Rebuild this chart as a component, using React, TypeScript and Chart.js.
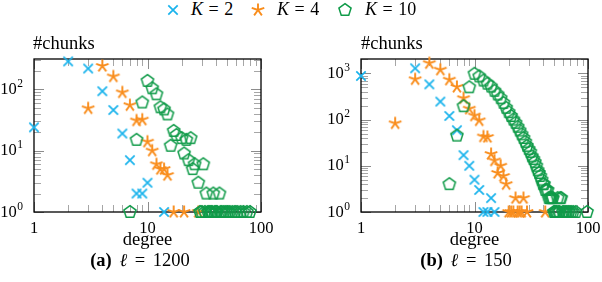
import React, { useEffect, useRef } from "react";
import { Chart, registerables } from "chart.js";
Chart.register(...registerables);

// ---------- tick labels ----------
const xTickValues = [1, 10, 100];
const xTickLabels = ["1", "10", "100"];
const yTickValuesA = [1, 10, 100];
const yTickExpA = ["0", "1", "2"];
const yTickValuesB = [1, 10, 100, 1000];
const yTickExpB = ["0", "1", "2", "3"];

// ---------- series labels ----------
const seriesNames = ["K = 2", "K = 4", "K = 10"];

// ---------- (a) l = 1200 ----------
const degA_K2 = [1, 2, 3, 4, 5, 6, 7, 8, 9, 10, 14];
const cntA_K2 = [24, 285, 218, 93, 46, 19, 7, 2, 2, 3, 1];

const degA_K4 = [3, 4, 5, 6, 7, 8, 9, 10, 11, 12, 13, 14, 15, 17, 21, 28];
const cntA_K4 = [49, 240, 162, 89, 55, 31, 32, 14, 10, 6, 5, 5, 4, 1, 1, 1];

const degA_K10 = [7, 8, 9, 10, 11, 12, 13, 14, 15, 16, 17, 18, 20, 21, 22, 23, 24, 25, 26, 28, 29, 30, 31, 32, 33, 34, 35, 36, 37, 38, 39, 40, 41, 43, 44, 45, 47, 49, 51, 53, 56, 59, 62, 66, 70, 75, 80];
const cntA_K10 = [1, 15, 61, 137, 104, 83, 51, 47, 39, 12, 21, 18, 16, 9, 15, 7, 16, 5, 6, 3, 1, 1, 6, 1, 2, 1, 1, 1, 1, 2, 1, 1, 1, 2, 1, 1, 1, 1, 1, 1, 1, 1, 1, 1, 1, 1, 1];

// ---------- (b) l = 150 ----------
const degB_K2 = [1, 3, 4, 5, 6, 7, 8, 9, 10, 11, 12, 13, 14, 15];
const cntB_K2 = [880, 1290, 580, 245, 120, 59, 17, 10, 5, 3, 1, 1, 2, 1];

const degB_K4 = [2, 3, 4, 5, 6, 7, 8, 9, 10, 11, 12, 13, 14, 15, 16, 17, 18, 19, 20, 21, 22, 23, 24, 25, 26, 27, 29, 42];
const cntB_K4 = [83, 745, 1660, 1200, 730, 510, 290, 172, 122, 96, 43, 42, 18, 13, 7, 10, 6, 4, 1, 1, 1, 2, 1, 1, 1, 2, 1, 1];

const degB_K10 = [6, 7, 8, 9, 10, 11, 12, 13, 14, 15, 16, 17, 18, 19, 20, 21, 22, 23, 24, 25, 26, 27, 28, 29, 30, 31, 32, 33, 34, 35, 36, 37, 38, 39, 40, 41, 42, 43, 44, 45, 46, 47, 48, 49, 50, 51, 52, 53, 54, 55, 56, 57, 58, 60, 62, 64, 66, 68, 71, 74, 78, 98];
const cntB_K10 = [4, 45, 195, 500, 980, 860, 700, 600, 520, 420, 350, 290, 230, 180, 145, 120, 100, 85, 70, 58, 48, 40, 33, 27, 23, 20, 16, 14, 12, 10, 8, 7, 6, 5, 4, 4, 3, 3, 3, 2, 2, 2, 2, 2, 1, 1, 1, 1, 2, 1, 1, 2, 2, 1, 1, 1, 1, 1, 1, 1, 1, 1];

// ---------- styles ----------
const COLORS = ["#19B3EC", "#F98D1C", "#109B49"];
const KINDS = ["cross", "star", "pentagon"];
const FONT = '"Liberation Serif", "Times New Roman", serif';

function drawMarker(ctx: CanvasRenderingContext2D, kind: string, cx: number, cy: number, color: string) {
  ctx.save();
  ctx.strokeStyle = color;
  ctx.lineCap = "butt";
  ctx.lineJoin = "miter";
  ctx.beginPath();
  if (kind === "cross") {
    const r = 4.7;
    ctx.lineWidth = 1.7;
    ctx.moveTo(cx - r, cy - r);
    ctx.lineTo(cx + r, cy + r);
    ctx.moveTo(cx - r, cy + r);
    ctx.lineTo(cx + r, cy - r);
  } else if (kind === "star") {
    const r = 6.6;
    ctx.lineWidth = 1.9;
    for (let k = 0; k < 5; k++) {
      const a = -Math.PI / 2 + (k * 2 * Math.PI) / 5;
      ctx.moveTo(cx, cy);
      ctx.lineTo(cx + r * Math.cos(a), cy + r * Math.sin(a));
    }
  } else {
    const r = 6.4;
    ctx.lineWidth = 1.5;
    for (let k = 0; k < 5; k++) {
      const a = -Math.PI / 2 + (k * 2 * Math.PI) / 5;
      const px = cx + r * Math.cos(a);
      const py = cy + r * Math.sin(a);
      if (k === 0) ctx.moveTo(px, py);
      else ctx.lineTo(px, py);
    }
    ctx.closePath();
  }
  ctx.stroke();
  ctx.restore();
}

function makeMarker(kind: string, color: string) {
  const c = document.createElement("canvas");
  c.width = 20;
  c.height = 20;
  const ctx = c.getContext("2d")!;
  drawMarker(ctx, kind, 10, 10, color);
  return c;
}

function minorTicks(majors: number[]) {
  const out: number[] = [];
  majors.forEach((b) => {
    for (let m = 2; m <= 9; m++) out.push(b * m);
  });
  return out;
}

const axisPlugin = {
  id: "pgfAxis",
  beforeDatasetsDraw(chart: any, _args: any, opts: any) {
    const { ctx, chartArea: a } = chart;
    const xs = chart.scales.x;
    const ys = chart.scales.y;
    const majorLen = 10;
    const minorLen = 7;
    ctx.save();
    ctx.lineWidth = 1;
    ctx.strokeStyle = "#a6a6a6";
    const xMaj = xTickValues;
    const xMin = minorTicks([1, 10]);
    const yMaj: number[] = opts.yValues;
    const yMin = minorTicks(yMaj).filter((v) => v <= ys.max);
    const drawX = (v: number, len: number) => {
      const px = Math.round(xs.getPixelForValue(v)) + 0.5;
      ctx.beginPath();
      ctx.moveTo(px, a.bottom);
      ctx.lineTo(px, a.bottom - len);
      ctx.moveTo(px, a.top);
      ctx.lineTo(px, a.top + len);
      ctx.stroke();
    };
    const drawY = (v: number, len: number) => {
      const py = Math.round(ys.getPixelForValue(v)) + 0.5;
      ctx.beginPath();
      ctx.moveTo(a.left, py);
      ctx.lineTo(a.left + len, py);
      ctx.moveTo(a.right, py);
      ctx.lineTo(a.right - len, py);
      ctx.stroke();
    };
    xMin.forEach((v) => drawX(v, minorLen));
    yMin.forEach((v) => drawY(v, minorLen));
    ctx.strokeStyle = "#8c8c8c";
    xMaj.forEach((v) => drawX(v, majorLen));
    yMaj.forEach((v) => drawY(v, majorLen));
    ctx.strokeStyle = "#000";
    ctx.lineWidth = 1.3;
    ctx.strokeRect(a.left, a.top, a.right - a.left, a.bottom - a.top);
    ctx.restore();
  },
  afterDraw(chart: any, _args: any, opts: any) {
    const { ctx, chartArea: a } = chart;
    const xs = chart.scales.x;
    const ys = chart.scales.y;
    ctx.save();
    ctx.fillStyle = "#000";
    ctx.font = `16.5px ${FONT}`;
    ctx.textAlign = "center";
    ctx.textBaseline = "alphabetic";
    xTickValues.forEach((v, i) => {
      ctx.fillText(xTickLabels[i], xs.getPixelForValue(v), a.bottom + 20.5);
    });
    const yVals: number[] = opts.yValues;
    const yExp: string[] = opts.yExp;
    yVals.forEach((v, i) => {
      const py = ys.getPixelForValue(v);
      const right = a.left - 11;
      ctx.font = `11.5px ${FONT}`;
      ctx.textAlign = "right";
      const ew = ctx.measureText(yExp[i]).width;
      ctx.fillText(yExp[i], right, py - 2.5);
      ctx.font = `16.5px ${FONT}`;
      ctx.fillText("10", right - ew - 0.5, py + 4.5);
    });
    ctx.restore();
  },
};

function makeConfig(degs: number[][], cnts: number[][], yMax: number, yValues: number[], yExp: string[], padding: any, markers: HTMLCanvasElement[]) {
  return {
    type: "scatter" as const,
    data: {
      datasets: degs.map((d, i) => ({
        label: seriesNames[i],
        data: d.map((x, j) => ({ x, y: cnts[i][j] })),
        pointStyle: markers[i],
        pointRadius: 7,
        pointHoverRadius: 7,
        clip: false as const,
        order: 3 - i,
        showLine: false,
      })),
    },
    options: {
      responsive: false,
      animation: false as const,
      events: [] as any[],
      layout: { padding },
      plugins: {
        legend: { display: false },
        tooltip: { enabled: false },
        pgfAxis: { yValues, yExp },
      },
      scales: {
        x: { type: "logarithmic" as const, min: 1, max: 100, display: false },
        y: { type: "logarithmic" as const, min: 1, max: yMax, display: false },
      },
    },
    plugins: [axisPlugin],
  };
}

function Txt(props: { x: number; baseline: number; fs: number; children: any; w?: number; align?: string; ws?: number }) {
  const { x, baseline, fs, children, w, align, ws } = props;
  const style: any = {
    position: "absolute",
    top: baseline - 0.8375 * fs,
    fontSize: fs,
    lineHeight: fs + "px",
    whiteSpace: "nowrap",
    fontFamily: FONT,
    color: "#000",
  };
  if (ws) style.wordSpacing = ws + "px";
  if (align === "center" && w) {
    style.left = x - w / 2;
    style.width = w;
    style.textAlign = "center";
  } else {
    style.left = x;
  }
  return <div style={style}>{children}</div>;
}

export default function App() {
  const leftRef = useRef<HTMLCanvasElement>(null);
  const rightRef = useRef<HTMLCanvasElement>(null);
  const leg0 = useRef<HTMLCanvasElement>(null);
  const leg1 = useRef<HTMLCanvasElement>(null);
  const leg2 = useRef<HTMLCanvasElement>(null);

  useEffect(() => {
    document.body.style.margin = "0";
    const markers = KINDS.map((k, i) => makeMarker(k, COLORS[i]));
    const c1 = new Chart(
      leftRef.current!,
      makeConfig([degA_K2, degA_K4, degA_K10], [cntA_K2, cntA_K4, cntA_K10], 312, yTickValuesA, yTickExpA, { left: 34, top: 59, right: 39, bottom: 70 }, markers) as any
    );
    const c2 = new Chart(
      rightRef.current!,
      makeConfig([degB_K2, degB_K4, degB_K10], [cntB_K2, cntB_K4, cntB_K10], 2050, yTickValuesB, yTickExpB, { left: 61, top: 59, right: 14, bottom: 70 }, markers) as any
    );
    [leg0, leg1, leg2].forEach((r, i) => {
      const cv = r.current!;
      const ctx = cv.getContext("2d")!;
      ctx.clearRect(0, 0, 20, 20);
      drawMarker(ctx, KINDS[i], 10, 10, COLORS[i]);
    });
    return () => {
      c1.destroy();
      c2.destroy();
    };
  }, []);

  const legX = [173, 258, 345];
  const legTextX = [191, 277, 365];
  const legRefs = [leg0, leg1, leg2];
  const legNums = ["2", "4", "10"];

  return (
    <div style={{ position: "relative", width: 602, height: 282, overflow: "hidden", background: "#fff" }}>
      {legX.map((x, i) => (
        <canvas key={"m" + i} ref={legRefs[i]} width={20} height={20} style={{ position: "absolute", left: x - 10, top: 0 }} />
      ))}
      {legTextX.map((x, i) => (
        <Txt key={"t" + i} x={x} baseline={15.5} fs={18} ws={1}>
          <i>K</i>&nbsp;=&nbsp;{legNums[i]}
        </Txt>
      ))}
      <canvas ref={leftRef} width={300} height={282} style={{ position: "absolute", left: 0, top: 0 }} />
      <canvas ref={rightRef} width={302} height={282} style={{ position: "absolute", left: 300, top: 0 }} />
      <Txt x={33} baseline={49.5} fs={18.5}>#chunks</Txt>
      <Txt x={361} baseline={49.5} fs={18.5}>#chunks</Txt>
      <Txt x={147.5} baseline={245} fs={18.5} w={120} align="center">degree</Txt>
      <Txt x={474.5} baseline={245} fs={18.5} w={120} align="center">degree</Txt>
      <Txt x={140} baseline={266} fs={18.5} w={220} align="center" ws={3}>
        <b>(a)</b> <i>ℓ</i> = 1200
      </Txt>
      <Txt x={466} baseline={266} fs={18.5} w={220} align="center" ws={3}>
        <b>(b)</b> <i>ℓ</i> = 150
      </Txt>
    </div>
  );
}
